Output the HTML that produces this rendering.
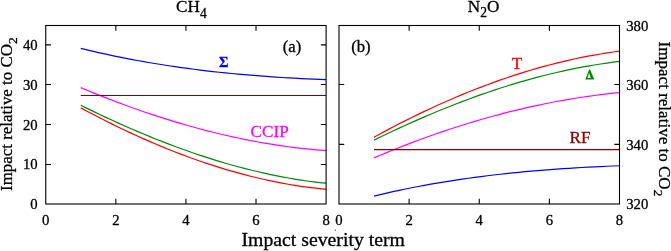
<!DOCTYPE html>
<html><head><meta charset="utf-8"><style>
html,body{margin:0;padding:0;background:#fff;}
svg{display:block;will-change:transform;}
text{font-family:"Liberation Serif",serif;}
</style></head><body>
<svg width="671" height="251" viewBox="0 0 671 251">
<rect width="671" height="251" fill="#fff"/>
<g fill="none" stroke-width="1.2" stroke-linejoin="round">
<path d="M80.79,48.34 L87.08,49.87 L93.37,51.36 L99.66,52.80 L105.95,54.19 L112.24,55.54 L118.53,56.85 L124.82,58.11 L131.11,59.32 L137.40,60.50 L143.69,61.63 L149.98,62.72 L156.27,63.77 L162.56,64.78 L168.85,65.75 L175.14,66.69 L181.43,67.59 L187.72,68.45 L194.01,69.27 L200.30,70.06 L206.59,70.82 L212.88,71.54 L219.17,72.23 L225.46,72.89 L231.75,73.51 L238.04,74.11 L244.33,74.67 L250.62,75.21 L256.91,75.72 L263.20,76.20 L269.49,76.65 L275.78,77.08 L282.07,77.48 L288.36,77.86 L294.65,78.21 L300.94,78.54 L307.23,78.85 L313.52,79.14 L319.81,79.40 L326.10,79.65" stroke="#0000ff"/>
<path d="M80.79,87.64 L87.08,90.26 L93.37,92.84 L99.66,95.37 L105.95,97.85 L112.24,100.28 L118.53,102.67 L124.82,105.00 L131.11,107.29 L137.40,109.52 L143.69,111.70 L149.98,113.83 L156.27,115.91 L162.56,117.94 L168.85,119.92 L175.14,121.84 L181.43,123.70 L187.72,125.52 L194.01,127.27 L200.30,128.98 L206.59,130.62 L212.88,132.21 L219.17,133.75 L225.46,135.22 L231.75,136.64 L238.04,138.00 L244.33,139.30 L250.62,140.54 L256.91,141.73 L263.20,142.85 L269.49,143.91 L275.78,144.91 L282.07,145.84 L288.36,146.72 L294.65,147.53 L300.94,148.28 L307.23,148.97 L313.52,149.59 L319.81,150.14 L326.10,150.63" stroke="#ff00ff"/>
<path d="M80.79,105.26 L87.08,108.36 L93.37,111.41 L99.66,114.42 L105.95,117.37 L112.24,120.28 L118.53,123.14 L124.82,125.95 L131.11,128.71 L137.40,131.41 L143.69,134.06 L149.98,136.66 L156.27,139.20 L162.56,141.68 L168.85,144.11 L175.14,146.48 L181.43,148.79 L187.72,151.04 L194.01,153.22 L200.30,155.35 L206.59,157.41 L212.88,159.41 L219.17,161.34 L225.46,163.21 L231.75,165.00 L238.04,166.73 L244.33,168.39 L250.62,169.98 L256.91,171.50 L263.20,172.95 L269.49,174.32 L275.78,175.62 L282.07,176.85 L288.36,177.99 L294.65,179.06 L300.94,180.05 L307.23,180.97 L313.52,181.80 L319.81,182.55 L326.10,183.22" stroke="#008b00"/>
<path d="M80.79,107.85 L87.08,111.22 L93.37,114.53 L99.66,117.78 L105.95,120.97 L112.24,124.10 L118.53,127.17 L124.82,130.18 L131.11,133.13 L137.40,136.02 L143.69,138.84 L149.98,141.60 L156.27,144.29 L162.56,146.91 L168.85,149.47 L175.14,151.96 L181.43,154.38 L187.72,156.73 L194.01,159.01 L200.30,161.22 L206.59,163.36 L212.88,165.43 L219.17,167.42 L225.46,169.34 L231.75,171.18 L238.04,172.95 L244.33,174.64 L250.62,176.25 L256.91,177.79 L263.20,179.25 L269.49,180.62 L275.78,181.92 L282.07,183.14 L288.36,184.27 L294.65,185.32 L300.94,186.29 L307.23,187.17 L313.52,187.97 L319.81,188.68 L326.10,189.31" stroke="#ff0000"/>
<path d="M374.06,137.21 L380.36,133.77 L386.65,130.39 L392.94,127.07 L399.24,123.81 L405.53,120.61 L411.82,117.48 L418.12,114.40 L424.41,111.38 L430.70,108.42 L437.00,105.53 L443.29,102.70 L449.58,99.93 L455.88,97.23 L462.17,94.59 L468.46,92.02 L474.75,89.51 L481.05,87.07 L487.34,84.69 L493.63,82.39 L499.93,80.15 L506.22,77.97 L512.51,75.87 L518.81,73.84 L525.10,71.88 L531.39,69.98 L537.69,68.16 L543.98,66.41 L550.27,64.73 L556.57,63.13 L562.86,61.59 L569.15,60.14 L575.45,58.75 L581.74,57.44 L588.03,56.21 L594.33,55.05 L600.62,53.97 L606.91,52.96 L613.21,52.03 L619.50,51.18" stroke="#ff0000"/>
<path d="M374.06,140.10 L380.36,137.04 L386.65,134.02 L392.94,131.04 L399.24,128.11 L405.53,125.23 L411.82,122.40 L418.12,119.62 L424.41,116.88 L430.70,114.20 L437.00,111.57 L443.29,108.99 L449.58,106.47 L455.88,103.99 L462.17,101.58 L468.46,99.22 L474.75,96.91 L481.05,94.67 L487.34,92.48 L493.63,90.35 L499.93,88.28 L506.22,86.27 L512.51,84.32 L518.81,82.44 L525.10,80.61 L531.39,78.85 L537.69,77.16 L543.98,75.53 L550.27,73.97 L556.57,72.48 L562.86,71.05 L569.15,69.69 L575.45,68.40 L581.74,67.19 L588.03,66.04 L594.33,64.97 L600.62,63.97 L606.91,63.04 L613.21,62.19 L619.50,61.41" stroke="#008b00"/>
<path d="M374.06,157.89 L380.36,155.23 L386.65,152.62 L392.94,150.06 L399.24,147.54 L405.53,145.08 L411.82,142.67 L418.12,140.31 L424.41,138.00 L430.70,135.74 L437.00,133.53 L443.29,131.37 L449.58,129.27 L455.88,127.22 L462.17,125.21 L468.46,123.26 L474.75,121.37 L481.05,119.52 L487.34,117.73 L493.63,115.99 L499.93,114.30 L506.22,112.67 L512.51,111.09 L518.81,109.56 L525.10,108.09 L531.39,106.67 L537.69,105.30 L543.98,103.99 L550.27,102.73 L556.57,101.53 L562.86,100.38 L569.15,99.29 L575.45,98.25 L581.74,97.27 L588.03,96.34 L594.33,95.47 L600.62,94.65 L606.91,93.89 L613.21,93.19 L619.50,92.54" stroke="#ff00ff"/>
<path d="M374.06,196.10 L380.36,194.59 L386.65,193.13 L392.94,191.71 L399.24,190.35 L405.53,189.03 L411.82,187.76 L418.12,186.53 L424.41,185.35 L430.70,184.21 L437.00,183.11 L443.29,182.05 L449.58,181.04 L455.88,180.06 L462.17,179.13 L468.46,178.23 L474.75,177.36 L481.05,176.54 L487.34,175.75 L493.63,174.99 L499.93,174.27 L506.22,173.58 L512.51,172.92 L518.81,172.29 L525.10,171.70 L531.39,171.13 L537.69,170.59 L543.98,170.08 L550.27,169.59 L556.57,169.13 L562.86,168.69 L569.15,168.28 L575.45,167.89 L581.74,167.52 L588.03,167.18 L594.33,166.85 L600.62,166.55 L606.91,166.26 L613.21,165.99 L619.50,165.74" stroke="#0000ff"/>
<path d="M80.79,95.5 L326.10,95.5" stroke="#8b0000"/>
<path d="M374.06,149.6 L619.50,149.6" stroke="#8b0000"/>
</g>
<g fill="none" stroke="#000" stroke-width="1.1">
<rect x="45.75" y="25.5" width="280.35" height="178.50"/><rect x="339.0" y="25.5" width="280.50" height="178.50"/>
<path d="M45.75,164.50 h5.2 M326.10,164.50 h-5.2 M45.75,124.50 h5.2 M326.10,124.50 h-5.2 M45.75,84.50 h5.2 M326.10,84.50 h-5.2 M45.75,44.90 h5.2 M326.10,44.90 h-5.2 M115.84,204.00 v-5.2 M115.84,25.50 v5.2 M185.93,204.00 v-5.2 M185.93,25.50 v5.2 M256.01,204.00 v-5.2 M256.01,25.50 v5.2 M339.00,144.40 h5.2 M619.50,144.40 h-5.2 M339.00,84.50 h5.2 M619.50,84.50 h-5.2 M409.12,204.00 v-5.2 M409.12,25.50 v5.2 M479.25,204.00 v-5.2 M479.25,25.50 v5.2 M549.38,204.00 v-5.2 M549.38,25.50 v5.2"/>
</g>
<g fill="#000" stroke="#000" stroke-width="0.3">
<text x="37.6" y="209.00" text-anchor="end" font-size="14.7">0</text>
<text x="37.6" y="169.33" text-anchor="end" font-size="14.7">10</text>
<text x="37.6" y="129.67" text-anchor="end" font-size="14.7">20</text>
<text x="37.6" y="90.00" text-anchor="end" font-size="14.7">30</text>
<text x="37.6" y="50.33" text-anchor="end" font-size="14.7">40</text>
<text x="626.2" y="209.00" font-size="14.7">320</text>
<text x="626.2" y="149.50" font-size="14.7">340</text>
<text x="626.2" y="90.00" font-size="14.7">360</text>
<text x="626.2" y="30.50" font-size="14.7">380</text>
<text x="45.75" y="224.6" text-anchor="middle" font-size="14.7">0</text>
<text x="339.00" y="224.6" text-anchor="middle" font-size="14.7">0</text>
<text x="115.84" y="224.6" text-anchor="middle" font-size="14.7">2</text>
<text x="409.12" y="224.6" text-anchor="middle" font-size="14.7">2</text>
<text x="185.93" y="224.6" text-anchor="middle" font-size="14.7">4</text>
<text x="479.25" y="224.6" text-anchor="middle" font-size="14.7">4</text>
<text x="256.01" y="224.6" text-anchor="middle" font-size="14.7">6</text>
<text x="549.38" y="224.6" text-anchor="middle" font-size="14.7">6</text>
<text x="326.10" y="224.6" text-anchor="middle" font-size="14.7">8</text>
<text x="619.50" y="224.6" text-anchor="middle" font-size="14.7">8</text>
<text x="176" y="12.4" font-size="17.2">CH<tspan font-size="13.6" dy="5.3">4</tspan></text>
<text x="467.8" y="12.0" font-size="17.2">N<tspan font-size="13.6" dy="5.3">2</tspan><tspan dy="-5.3">O</tspan></text>
<text x="282.8" y="51.6" font-size="16.7">(a)</text>
<text x="351.2" y="51.6" font-size="16.7">(b)</text>
<text x="250.5" y="137.2" font-size="17.2" fill="#ff00ff" stroke="#ff00ff">CCIP</text>
<text x="511.7" y="68.6" font-size="17.2" fill="#ff0000" stroke="#ff0000">T</text>
<text x="569.5" y="142.6" font-size="17.2" fill="#8b0000" stroke="#8b0000">RF</text>
<text x="218.9" y="66.7" font-size="14.6" font-weight="bold" fill="#0000ff" stroke="#0000ff">&#931;</text>
<path d="M585.2,79.4 L589.2,69.5 L590.1,69.5 L594.3,79.4 Z M587.5,77.9 L590.7,77.9 L589.1,72.9 Z" fill-rule="evenodd" fill="#008b00" stroke="none"/>
<circle cx="335.3" cy="230.1" r="0.65" fill="#222" stroke="none"/>
<text x="241.5" y="246.0" font-size="19.75">Impact severity term</text>
<text transform="translate(12.1,190.9) rotate(-90)" font-size="16.9">Impact relative to CO<tspan font-size="13.4" dy="5.3">2</tspan></text>
<text transform="translate(659.2,41.6) rotate(90)" font-size="17.05">Impact relative to CO<tspan font-size="13.4" dy="5.3">2</tspan></text>
</g>
</svg>
</body></html>
